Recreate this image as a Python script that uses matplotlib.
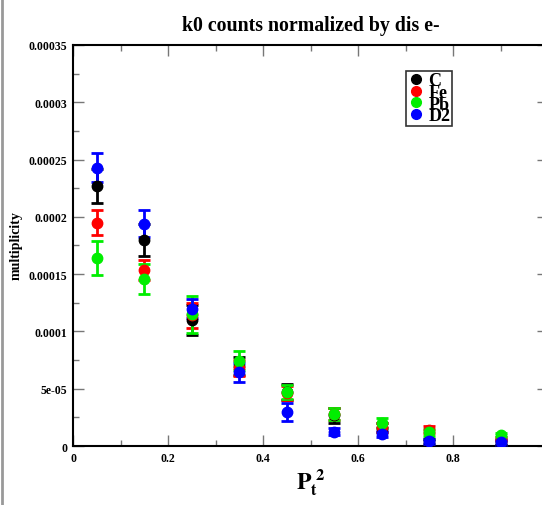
import matplotlib
matplotlib.use("Agg")
import matplotlib.pyplot as plt
from matplotlib.lines import Line2D
from matplotlib.ticker import MultipleLocator

plt.rcParams['font.family'] = 'Liberation Serif'
plt.rcParams['font.weight'] = 'bold'
plt.rcParams['mathtext.fontset'] = 'stix'

# pt^2 bin centres
pt2 = [0.05, 0.15, 0.25, 0.35, 0.45, 0.55, 0.65, 0.75, 0.9]

# multiplicity per target, with statistical errors
C_val = [0.000227, 0.000180, 0.000110, 0.000070, 0.000047, 0.000027, 0.000016, 0.000004, 0.000003]
C_err = [0.0000145, 0.000014, 0.0000134, 0.000008, 0.000007, 0.0000065, 0.000004, 0.000002, 0.000002]
Fe_val = [0.000195, 0.000154, 0.000114, 0.000068, 0.0000465, 0.000028, 0.0000163, 0.0000142, 0.000006]
Fe_err = [0.0000108, 0.0000087, 0.000011, 0.000007, 0.000006, 0.000005, 0.000004, 0.000003, 0.000002]
Pb_val = [0.000164, 0.000146, 0.000115, 0.0000745, 0.0000469, 0.0000279, 0.0000201, 0.000012, 0.0000096]
Pb_err = [0.000015, 0.000013, 0.000016, 0.000008, 0.000006, 0.000005, 0.000004, 0.000003, 0.000002]
D2_val = [0.000243, 0.000194, 0.000120, 0.0000643, 0.0000294, 0.0000125, 0.0000105, 0.0000041, 0.0000032]
D2_err = [0.0000125, 0.0000118, 0.000008, 0.0000082, 0.000008, 0.000003, 0.000003, 0.000002, 0.000002]

series = [('C', C_val, C_err, 'black'),
          ('Fe', Fe_val, Fe_err, 'red'),
          ('Pb', Pb_val, Pb_err, '#00ee00'),
          ('D2', D2_val, D2_err, 'blue')]

ytick_vals = [0, 0.00005, 0.0001, 0.00015, 0.0002, 0.00025, 0.0003, 0.00035]
ytick_text = ['0', '5e-05', '0.0001', '0.00015', '0.0002', '0.00025', '0.0003', '0.00035']
xtick_vals = [0, 0.2, 0.4, 0.6, 0.8]
xtick_text = ['0', '0.2', '0.4', '0.6', '0.8']

fig = plt.figure(figsize=(5.42, 5.06), dpi=100)
ax = fig.add_axes([0.1347, 0.1166, 0.8764, 0.7925])

handles = []
for name, v, e, c in series:
    ax.errorbar(pt2, v, yerr=e, fmt='o', color=c, ecolor=c, markersize=7.5,
                elinewidth=2, capsize=4, capthick=2, zorder=3)
    handles.append(Line2D([], [], marker='o', linestyle='none', color=c,
                          markersize=7, label=name))

ax.set_xlim(0, 1)
ax.set_ylim(0, 0.00035)
ax.set_xticks(xtick_vals)
ax.set_xticklabels(xtick_text)
ax.set_yticks(ytick_vals)
ax.set_yticklabels(ytick_text)
ax.xaxis.set_minor_locator(MultipleLocator(0.1))
ax.yaxis.set_minor_locator(MultipleLocator(0.000025))
ax.tick_params(which='both', direction='in', top=True, right=True, color='#777777',
               labelsize=8.5, pad=4)
ax.tick_params(which='major', length=8, width=1)
ax.tick_params(which='minor', length=4, width=1)
for s in ax.spines.values():
    s.set_linewidth(1.5)

ax.set_title('k0 counts normalized by dis e-', fontsize=14.3, fontweight='bold', pad=11)
fig.text(16 / 542, 1 - 246 / 506, 'multiplicity', rotation=90, ha='center', va='center',
         fontsize=10, fontweight='bold')
ax.set_xlabel(r'$\mathbf{P}_{\mathbf{t}}^{\ \mathbf{2}}$', fontsize=17, labelpad=2)

leg = ax.legend(handles=handles, loc='upper left', bbox_to_anchor=(0.701, 0.936),
                frameon=True, fancybox=False, edgecolor='black', fontsize=13,
                handletextpad=0.25, labelspacing=-0.3, borderpad=0.1,
                handlelength=0.9, borderaxespad=0)
leg.get_frame().set_linewidth(1.2)

# thin grey frame along the left edge
fig.add_artist(Line2D([0.004, 0.004], [0, 1], transform=fig.transFigure,
                      color='#999999', linewidth=2))

fig.savefig('out.png', dpi=100)
